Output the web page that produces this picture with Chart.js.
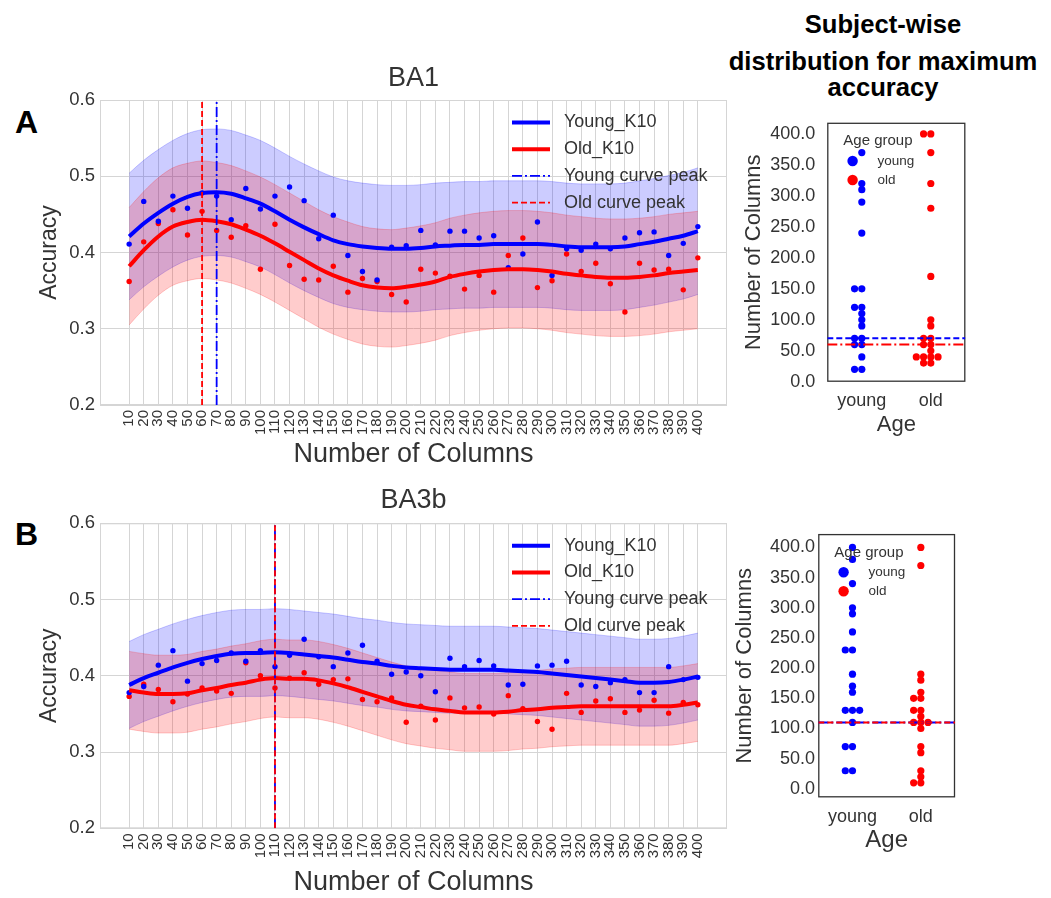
<!DOCTYPE html>
<html>
<head>
<meta charset="utf-8">
<script src="https://cdn.jsdelivr.net/npm/chart.js@4.4.1/dist/chart.umd.min.js"></script>
<style>
  html, body { margin: 0; padding: 0; background: #fff; width: 1051px; height: 898px; overflow: hidden; }
  canvas { position: absolute; }
  .txt { position: absolute; font-family: "Liberation Sans", Arial, Helvetica, sans-serif; font-weight: bold;
         color: #000; line-height: 1; white-space: nowrap; }
  .hdr { left: 718px; width: 330px; text-align: center; font-size: 25.6px; }
</style>
</head>
<body>
<div class="txt" style="left:15px;top:106px;font-size:32px">A</div>
<div class="txt" style="left:15px;top:518px;font-size:32px">B</div>
<div class="txt hdr" style="top:11.6px">Subject-wise</div>
<div class="txt hdr" style="top:49.3px">distribution for maximum</div>
<div class="txt hdr" style="top:75.3px">accuracy</div>

<canvas id="ba1" width="745" height="435" style="left:0;top:40px"></canvas>
<canvas id="ba3b" width="745" height="438" style="left:0;top:458px"></canvas>
<canvas id="swarmA" width="321" height="340" style="left:730px;top:100px"></canvas>
<canvas id="swarmB" width="321" height="340" style="left:730px;top:520px"></canvas>

<script>
// ---- x categories (number of columns) and axis ticks ----
const columns = [10, 20, 30, 40, 50, 60, 70, 80, 90, 100,
                 110, 120, 130, 140, 150, 160, 170, 180, 190, 200,
                 210, 220, 230, 240, 250, 260, 270, 280, 290, 300,
                 310, 320, 330, 340, 350, 360, 370, 380, 390, 400];
const accuracyTicks = [0.2, 0.3, 0.4, 0.5, 0.6];
const columnCountTicks = [0, 50, 100, 150, 200, 250, 300, 350, 400];
const ageGroups = ['young', 'old'];

// ---- BA1: per-column accuracy and fitted curves ----
const ba1YoungAcc = [0.411, 0.467, 0.441, 0.474, 0.458, 0.478, 0.474, 0.443, 0.484, 0.457,
                     0.474, 0.486, 0.468, 0.418, 0.449, 0.396, 0.375, 0.364, 0.407, 0.409,
                     0.429, 0.410, 0.428, 0.428, 0.419, 0.422, 0.380, 0.398, 0.440, 0.370,
                     0.405, 0.403, 0.411, 0.405, 0.419, 0.426, 0.427, 0.396, 0.412, 0.434];
const ba1OldAcc = [0.362, 0.414, 0.438, 0.456, 0.423, 0.454, 0.429, 0.420, 0.435, 0.378,
                   0.437, 0.383, 0.365, 0.364, 0.382, 0.348, 0.366, 0.362, 0.345, 0.335,
                   0.378, 0.373, 0.369, 0.352, 0.370, 0.348, 0.396, 0.419, 0.354, 0.363,
                   0.398, 0.375, 0.386, 0.359, 0.322, 0.386, 0.377, 0.378, 0.351, 0.393];
const ba1YoungFit = [0.421, 0.438, 0.452, 0.464, 0.473, 0.478, 0.479, 0.477, 0.471, 0.464,
                     0.454, 0.443, 0.433, 0.424, 0.416, 0.411, 0.408, 0.406, 0.405, 0.405,
                     0.406, 0.408, 0.409, 0.410, 0.410, 0.411, 0.411, 0.411, 0.411, 0.410,
                     0.408, 0.407, 0.407, 0.407, 0.408, 0.411, 0.414, 0.418, 0.422, 0.428];
const ba1OldFit = [0.382, 0.403, 0.421, 0.434, 0.440, 0.443, 0.441, 0.437, 0.430, 0.422,
                   0.412, 0.401, 0.390, 0.379, 0.370, 0.363, 0.357, 0.354, 0.353, 0.355,
                   0.358, 0.362, 0.368, 0.372, 0.375, 0.377, 0.378, 0.378, 0.377, 0.375,
                   0.372, 0.370, 0.368, 0.367, 0.367, 0.368, 0.370, 0.373, 0.375, 0.377];
const ba1YoungBand = 0.083;   // half-width of the shaded band
const ba1OldBand = 0.077;
const ba1YoungPeak = 70;
const ba1OldPeak = 60;

// ---- BA3b: per-column accuracy and fitted curves ----
const ba3bYoungAcc = [0.378, 0.386, 0.414, 0.433, 0.393, 0.416, 0.420, 0.430, 0.419, 0.433,
                      0.412, 0.427, 0.448, 0.425, 0.412, 0.430, 0.440, 0.419, 0.402, 0.405,
                      0.400, 0.379, 0.423, 0.412, 0.420, 0.413, 0.388, 0.389, 0.413, 0.414,
                      0.419, 0.388, 0.386, 0.391, 0.395, 0.378, 0.378, 0.412, 0.395, 0.398];
const ba3bOldAcc = [0.373, 0.389, 0.382, 0.366, 0.376, 0.384, 0.380, 0.377, 0.417, 0.400,
                    0.384, 0.397, 0.404, 0.389, 0.395, 0.396, 0.369, 0.366, 0.371, 0.339,
                    0.360, 0.342, 0.371, 0.358, 0.359, 0.350, 0.374, 0.357, 0.340, 0.330,
                    0.377, 0.352, 0.367, 0.370, 0.352, 0.355, 0.368, 0.351, 0.365, 0.362];
const ba3bYoungFit = [0.388, 0.397, 0.404, 0.411, 0.417, 0.422, 0.426, 0.429, 0.430, 0.430,
                      0.431, 0.430, 0.428, 0.426, 0.424, 0.421, 0.418, 0.416, 0.413, 0.411,
                      0.410, 0.409, 0.408, 0.408, 0.408, 0.408, 0.407, 0.406, 0.405, 0.403,
                      0.401, 0.399, 0.397, 0.395, 0.393, 0.391, 0.391, 0.392, 0.395, 0.399];
const ba3bOldFit = [0.381, 0.378, 0.376, 0.376, 0.377, 0.381, 0.384, 0.388, 0.391, 0.395,
                    0.397, 0.396, 0.396, 0.394, 0.390, 0.385, 0.379, 0.373, 0.367, 0.362,
                    0.359, 0.356, 0.354, 0.352, 0.352, 0.352, 0.353, 0.355, 0.356, 0.358,
                    0.359, 0.360, 0.360, 0.360, 0.360, 0.360, 0.360, 0.360, 0.362, 0.365];
const ba3bYoungBand = 0.057;
const ba3bOldBand = 0.051;
const ba3bYoungPeak = 110;
const ba3bOldPeak = 110;

// ---- subject-wise column count giving maximum accuracy ----
const ba1YoungBest = [20, 20, 40, 60, 60, 70, 70, 90, 100, 110, 120, 120, 150, 150, 240, 290, 310, 320, 370];
const ba1OldBest = [30, 30, 40, 40, 40, 40, 50, 60, 60, 70, 70, 90, 100, 170, 280, 320, 370, 400, 400];
const ba3bYoungBest = [30, 30, 70, 70, 110, 130, 130, 130, 160, 170, 190, 230, 230, 260, 290, 300, 340, 380, 400];
const ba3bOldBest = [10, 10, 20, 30, 60, 70, 100, 110, 110, 110, 120, 130, 130, 150, 150, 160, 180, 190, 370, 400];

// ---- styling ----
const FONT = '"Liberation Sans", Arial, Helvetica, sans-serif';
const INK = '#333333';
const BLUE = '#0000ff', RED = '#ff0000';
const BLUE_BAND = 'rgba(0,0,255,0.2)', RED_BAND = 'rgba(255,0,0,0.2)';
const GRID = '#d5d5d5';
const DASH = [6, 3];
const DASH_DOT = [10, 3, 2, 3];

Chart.defaults.font.family = FONT;
Chart.defaults.color = INK;
Chart.defaults.animation = false;

// rectangle around the plotting area
const framePlugin = {
  id: 'frame',
  beforeDatasetsDraw(chart, args, opts) {
    if (!opts || !opts.color) return;
    const { ctx, chartArea: a } = chart;
    ctx.save();
    ctx.strokeStyle = opts.color;
    ctx.lineWidth = opts.width;
    ctx.strokeRect(a.left + 0.5, a.top + 0.5, a.right - a.left - 1, a.bottom - a.top - 1);
    ctx.restore();
  }
};

// line legend drawn inside the plotting area
const insideLegendPlugin = {
  id: 'insideLegend',
  afterDatasetsDraw(chart, args, opts) {
    if (!opts || !opts.items) return;
    const { ctx, chartArea: a } = chart;
    ctx.save();
    ctx.font = opts.fontSize + 'px ' + FONT;
    ctx.textBaseline = 'middle';
    ctx.textAlign = 'left';
    opts.items.forEach((idx, k) => {
      const ds = chart.data.datasets[idx];
      const y = a.top + opts.top + k * opts.rowGap;
      const x0 = a.left + opts.left;
      ctx.beginPath();
      ctx.strokeStyle = ds.borderColor;
      ctx.lineWidth = ds.borderWidth;
      ctx.setLineDash(ds.borderDash || []);
      ctx.moveTo(x0, y);
      ctx.lineTo(x0 + opts.lineLen, y);
      ctx.stroke();
      ctx.setLineDash([]);
      ctx.fillStyle = INK;
      ctx.fillText(ds.label, x0 + opts.lineLen + opts.gap, y);
    });
    ctx.restore();
  }
};

// "Age group" marker legend of the swarm panels
const groupLegendPlugin = {
  id: 'groupLegend',
  afterDatasetsDraw(chart, args, opts) {
    if (!opts || !opts.title) return;
    const { ctx, chartArea: a } = chart;
    ctx.save();
    ctx.textBaseline = 'middle';
    ctx.textAlign = 'left';
    ctx.fillStyle = INK;
    ctx.font = opts.titleSize + 'px ' + FONT;
    ctx.fillText(opts.title, a.left + opts.titleX, a.top + opts.titleY);
    opts.items.forEach((idx, k) => {
      const ds = chart.data.datasets[idx];
      const y = a.top + opts.rows[k];
      ctx.beginPath();
      ctx.fillStyle = ds.pointBackgroundColor;
      ctx.arc(a.left + opts.markerX, y, opts.radius, 0, Math.PI * 2);
      ctx.fill();
      ctx.fillStyle = INK;
      ctx.font = opts.itemSize + 'px ' + FONT;
      ctx.fillText(ds.label, a.left + opts.textX, y);
    });
    ctx.restore();
  }
};

Chart.register(framePlugin, insideLegendPlugin, groupLegendPlugin);

function series(values) {
  return columns.map((c, i) => ({ x: c, y: values[i] }));
}
function shifted(values, d) {
  return columns.map((c, i) => ({ x: c, y: values[i] + d }));
}
function peakLine(x) {
  return [{ x, y: accuracyTicks[0] }, { x, y: accuracyTicks[accuracyTicks.length - 1] }];
}

function accuracyChart(id, cfg) {
  const band = (data, color, fill, order) => ({
    label: 'band', data, borderColor: color, borderWidth: 1, backgroundColor: color,
    fill, pointRadius: 0, cubicInterpolationMode: 'monotone', order
  });
  return new Chart(document.getElementById(id), {
    type: 'line',
    data: {
      datasets: [
        band(shifted(cfg.youngFit, cfg.youngBand), BLUE_BAND, '+1', 20),
        band(shifted(cfg.youngFit, -cfg.youngBand), BLUE_BAND, false, 20),
        band(shifted(cfg.oldFit, cfg.oldBand), RED_BAND, '+1', 19),
        band(shifted(cfg.oldFit, -cfg.oldBand), RED_BAND, false, 19),
        { label: 'Young', data: series(cfg.youngAcc), showLine: false, pointRadius: 2.7,
          pointBackgroundColor: BLUE, pointBorderWidth: 0, order: 6 },
        { label: 'Old', data: series(cfg.oldAcc), showLine: false, pointRadius: 2.7,
          pointBackgroundColor: RED, pointBorderWidth: 0, order: 6 },
        { label: 'Young_K10', data: series(cfg.youngFit), borderColor: BLUE, borderWidth: 4,
          pointRadius: 0, cubicInterpolationMode: 'monotone', order: 4 },
        { label: 'Old_K10', data: series(cfg.oldFit), borderColor: RED, borderWidth: 4,
          pointRadius: 0, cubicInterpolationMode: 'monotone', order: 4 },
        { label: 'Young curve peak', data: peakLine(cfg.youngPeak), borderColor: BLUE, borderWidth: 1.8,
          borderDash: DASH_DOT, pointRadius: 0, order: 2 },
        { label: 'Old curve peak', data: peakLine(cfg.oldPeak), borderColor: RED, borderWidth: 1.8,
          borderDash: DASH, pointRadius: 0, order: 1 }
      ]
    },
    options: {
      responsive: false,
      animation: false,
      devicePixelRatio: 1,
      layout: { padding: { left: 0, right: 18, top: 0, bottom: 0 } },
      plugins: {
        legend: { display: false },
        tooltip: { enabled: false },
        title: { display: true, fullSize: false, text: cfg.title, color: INK,
                 font: { size: 27, weight: 'normal', lineHeight: 1 },
                 padding: { top: cfg.titleTop, bottom: cfg.titleBottom } },
        frame: { color: GRID, width: 1 },
        insideLegend: { items: [6, 7, 8, 9], left: 412, top: 22.5, rowGap: 26.7,
                        lineLen: 38, gap: 14, fontSize: 18 }
      },
      scales: {
        x: {
          type: 'linear', min: -10, max: 420,
          afterBuildTicks: s => { s.ticks = columns.map(v => ({ value: v })); },
          afterFit: s => { s.height = cfg.xAxisHeight; },
          ticks: { autoSkip: false, minRotation: 90, maxRotation: 90, padding: 5,
                   font: { size: 15 }, color: INK, callback: v => String(v) },
          grid: { color: GRID, lineWidth: 1, drawTicks: false },
          border: { display: false },
          title: { display: true, text: 'Number of Columns', color: INK,
                   font: { size: 27, lineHeight: 1 }, padding: { top: 0, bottom: cfg.xTitleBottom } }
        },
        y: {
          min: accuracyTicks[0], max: accuracyTicks[accuracyTicks.length - 1],
          afterBuildTicks: s => { s.ticks = accuracyTicks.map(v => ({ value: v })); },
          afterFit: s => { s.width = 100; },
          ticks: { padding: 5, font: { size: 18.5 }, color: INK, callback: v => v.toFixed(1) },
          grid: { color: GRID, lineWidth: 1, drawTicks: false },
          border: { display: false },
          title: { display: true, text: 'Accuracy', color: INK,
                   font: { size: 23, lineHeight: 1 }, padding: { top: 38.5, bottom: 0 } }
        }
      }
    }
  });
}

// beeswarm layout: equal values are spread sideways around the group centre
const SWARM_STEP = 0.105;
const SLOT_ORDER = [0, -1, 1, -2, 2, -3, 3];
function swarm(values, group) {
  const seen = {};
  return values.map(v => {
    const k = seen[v] || 0;
    seen[v] = k + 1;
    return { x: group + SLOT_ORDER[k] * SWARM_STEP, y: v };
  });
}
function hline(y) {
  return [{ x: -0.5, y }, { x: 1.5, y }];
}

function swarmChart(id, cfg) {
  return new Chart(document.getElementById(id), {
    type: 'scatter',
    data: {
      datasets: [
        { label: ageGroups[0], data: swarm(cfg.young, 0), pointRadius: 3.6,
          pointBackgroundColor: BLUE, pointBorderWidth: 0, order: 5 },
        { label: ageGroups[1], data: swarm(cfg.old, 1), pointRadius: 3.6,
          pointBackgroundColor: RED, pointBorderWidth: 0, order: 5 },
        { label: 'young peak', data: hline(cfg.youngLine), showLine: true, borderColor: BLUE,
          borderWidth: 2, borderDash: cfg.youngDash, pointRadius: 0, order: 2 },
        { label: 'old peak', data: hline(cfg.oldLine), showLine: true, borderColor: RED,
          borderWidth: 2, borderDash: cfg.oldDash, pointRadius: 0, order: 1 }
      ]
    },
    options: {
      responsive: false,
      animation: false,
      devicePixelRatio: 1,
      layout: { padding: { left: 0, right: cfg.padRight, top: cfg.padTop, bottom: 0 } },
      plugins: {
        legend: { display: false },
        tooltip: { enabled: false },
        frame: { color: '#333333', width: 1.3 },
        groupLegend: { title: 'Age group', titleX: 16, titleY: 18.5, titleSize: 15,
                       items: [0, 1], rows: [38.2, 57.2], markerX: 25.3, radius: 5.2,
                       textX: 50.2, itemSize: 13.5 }
      },
      scales: {
        x: {
          type: 'linear', min: -0.5, max: 1.5,
          afterBuildTicks: s => { s.ticks = ageGroups.map((g, i) => ({ value: i })); },
          afterFit: s => { s.height = cfg.xAxisHeight; },
          ticks: { padding: 9, font: { size: 18 }, color: INK, callback: v => ageGroups[v] },
          grid: { display: false, drawTicks: false },
          border: { display: false },
          title: { display: true, text: 'Age', color: INK,
                   font: { size: cfg.ageSize, lineHeight: 1 }, padding: { top: 0, bottom: cfg.ageBottom } }
        },
        y: {
          min: cfg.yMin, max: cfg.yMax,
          afterBuildTicks: s => { s.ticks = columnCountTicks.map(v => ({ value: v })); },
          afterFit: s => { s.width = cfg.yAxisWidth; },
          ticks: { padding: cfg.yTickPad, font: { size: 18 }, color: INK, callback: v => v.toFixed(1) },
          grid: { display: false, drawTicks: false },
          border: { display: false },
          title: { display: true, text: 'Number of Columns', color: INK,
                   font: { size: 22, lineHeight: 1 }, padding: { top: cfg.yTitlePad, bottom: 0 } }
        }
      }
    }
  });
}

accuracyChart('ba1', {
  title: 'BA1', titleTop: 25.5, titleBottom: 7.5, xAxisHeight: 70, xTitleBottom: 6.5,
  youngAcc: ba1YoungAcc, oldAcc: ba1OldAcc, youngFit: ba1YoungFit, oldFit: ba1OldFit,
  youngBand: ba1YoungBand, oldBand: ba1OldBand, youngPeak: ba1YoungPeak, oldPeak: ba1OldPeak
});
accuracyChart('ba3b', {
  title: 'BA3b', titleTop: 29.5, titleBottom: 8.8, xAxisHeight: 67.7, xTitleBottom: 0,
  youngAcc: ba3bYoungAcc, oldAcc: ba3bOldAcc, youngFit: ba3bYoungFit, oldFit: ba3bOldFit,
  youngBand: ba3bYoungBand, oldBand: ba3bOldBand, youngPeak: ba3bYoungPeak, oldPeak: ba3bOldPeak
});
swarmChart('swarmA', {
  young: ba1YoungBest, old: ba1OldBest, yMin: 0, yMax: 418,
  youngLine: ba1YoungPeak, oldLine: ba1OldPeak, youngDash: DASH, oldDash: DASH_DOT,
  padTop: 14.7, padRight: 85.7, yAxisWidth: 97.3, xAxisHeight: 58.3,
  yTickPad: 12, yTitlePad: 13, ageSize: 22, ageBottom: 4
});
swarmChart('swarmB', {
  young: ba3bYoungBest, old: ba3bOldBest, yMin: -14, yMax: 422,
  youngLine: ba3bYoungPeak, oldLine: ba3bOldPeak, youngDash: DASH_DOT, oldDash: DASH,
  padTop: 13.3, padRight: 96, yAxisWidth: 88.3, xAxisHeight: 62.7,
  yTickPad: 3.3, yTitlePad: 4, ageSize: 24, ageBottom: 8
});
</script>
</body>
</html>
